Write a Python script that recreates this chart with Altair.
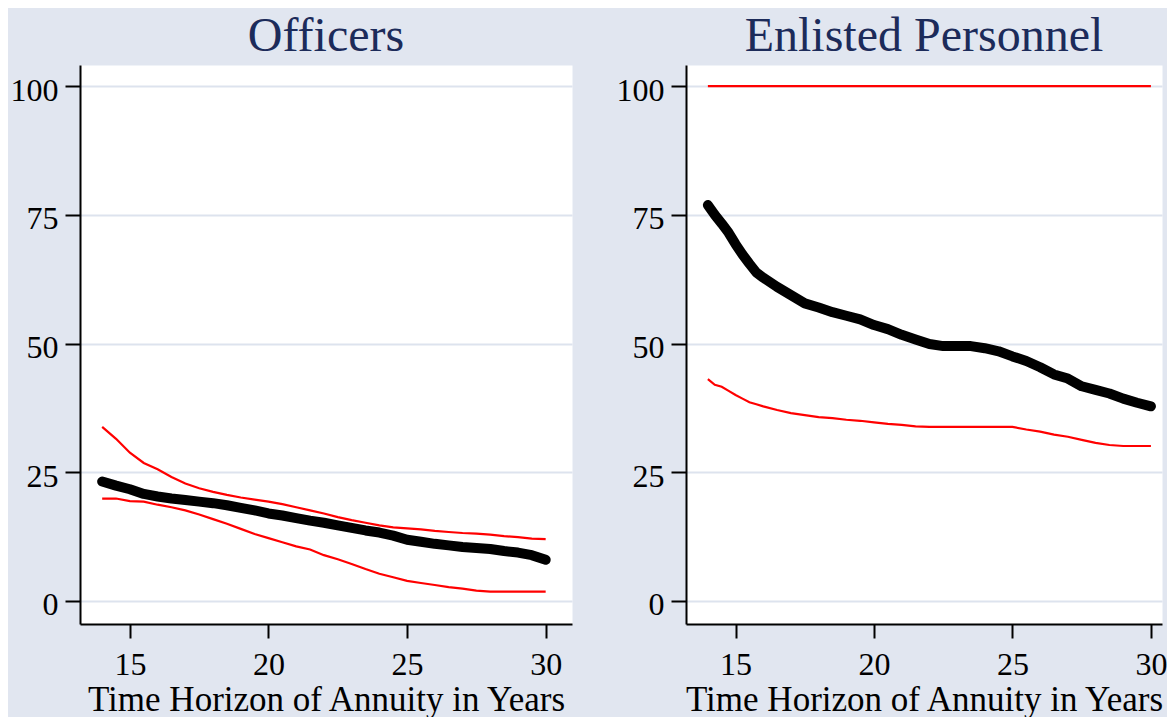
import altair as alt
import pandas as pd

# ---- data ----
off_x = [14, 14.5, 15, 15.5, 16, 16.5, 17, 17.5, 18, 18.5, 19, 19.5, 20, 20.5, 21, 21.5,
         22, 22.5, 23, 23.5, 24, 24.5, 25, 25.5, 26, 26.5, 27, 27.5, 28, 28.5, 29, 29.5, 30]
off_est = [23.2, 22.4, 21.7, 20.8, 20.3, 19.9, 19.6, 19.3, 19.0, 18.6, 18.1, 17.6, 17.0, 16.6,
           16.1, 15.6, 15.2, 14.7, 14.2, 13.7, 13.3, 12.7, 11.9, 11.5, 11.1, 10.8, 10.5, 10.3,
           10.1, 9.7, 9.4, 8.9, 8.0]
off_hi = [33.8, 31.5, 28.8, 26.8, 25.6, 24.1, 22.8, 21.9, 21.2, 20.6, 20.1, 19.7, 19.3, 18.8,
          18.2, 17.6, 17.0, 16.3, 15.7, 15.2, 14.7, 14.3, 14.1, 13.9, 13.6, 13.4, 13.2, 13.1,
          12.9, 12.6, 12.4, 12.1, 12.0]
off_lo = [19.9, 19.9, 19.4, 19.3, 18.7, 18.2, 17.6, 16.8, 15.9, 15.0, 14.0, 13.0, 12.2, 11.4,
          10.6, 10.0, 8.9, 8.1, 7.2, 6.2, 5.3, 4.6, 3.9, 3.5, 3.1, 2.7, 2.4, 2.0, 1.8, 1.8,
          1.8, 1.8, 1.8]

enl_x = [14, 14.25, 14.5, 14.75, 15, 15.25, 15.5, 15.75, 16, 16.5, 17, 17.5, 18, 18.5, 19,
         19.5, 20, 20.5, 21, 21.5, 22, 22.5, 23, 23.5, 24, 24.5, 25, 25.5, 26, 26.5, 27, 27.5,
         28, 28.5, 29, 29.5, 30]
enl_est = [76.9, 75.0, 73.3, 71.5, 69.3, 67.3, 65.5, 63.8, 62.8, 61.0, 59.4, 57.8, 57.0, 56.1,
           55.4, 54.7, 53.6, 52.8, 51.7, 50.8, 49.9, 49.5, 49.5, 49.5, 49.1, 48.5, 47.5, 46.6,
           45.4, 44.0, 43.2, 41.7, 41.0, 40.3, 39.3, 38.5, 37.8]
enl_lo = [43.1, 42.0, 41.6, 40.8, 40.0, 39.3, 38.6, 38.2, 37.8, 37.1, 36.5, 36.1, 35.7, 35.5,
          35.2, 35.0, 34.7, 34.4, 34.2, 33.9, 33.8, 33.8, 33.8, 33.8, 33.8, 33.8, 33.8, 33.3,
          32.9, 32.3, 31.9, 31.3, 30.7, 30.3, 30.1, 30.1, 30.1]
enl_hi = [100.0] * len(enl_x)

x_ticks = [15, 20, 25, 30]
y_ticks = [0, 25, 50, 75, 100]
x_title = "Time Horizon of Annuity in Years"
titles = ["Officers", "Enlisted Personnel"]

SERIF = "Liberation Serif"


def long_ci(xs, hi, lo):
    rows = []
    for x, v in zip(xs, hi):
        rows.append({"x": x, "y": v, "s": "upper"})
    for x, v in zip(xs, lo):
        rows.append({"x": x, "y": v, "s": "lower"})
    return pd.DataFrame(rows)


def panel(xs, est, hi, lo, title, xdom, width):
    xsc = alt.Scale(domain=xdom, nice=False, zero=False)
    ysc = alt.Scale(domain=[-4.47, 104.1], nice=False, zero=False)
    xax = alt.Axis(values=x_ticks, title=x_title, grid=False, tickSize=14,
                   labelPadding=11, titlePadding=2, format="d")
    yax = alt.Axis(values=y_ticks, title=None, grid=True, tickSize=15,
                   labelPadding=7, labelOffset=4, format="d")
    est_df = pd.DataFrame({"x": xs, "y": est})
    black = alt.Chart(est_df).mark_line(
        color="black", strokeWidth=10, strokeCap="round", strokeJoin="round"
    ).encode(
        x=alt.X("x:Q", scale=xsc, axis=xax),
        y=alt.Y("y:Q", scale=ysc, axis=yax),
    )
    red = alt.Chart(long_ci(xs, hi, lo)).mark_line(
        color="#ff0000", strokeWidth=2.2
    ).encode(
        x=alt.X("x:Q", scale=xsc, axis=xax),
        y=alt.Y("y:Q", scale=ysc, axis=yax),
        detail="s:N",
    )
    return alt.layer(black, red).properties(
        width=width, height=559, title=title
    )


left = panel(off_x, off_est, off_hi, off_lo, titles[0], [13.2, 30.95], 492)
right = panel(enl_x, enl_est, enl_hi, enl_lo, titles[1], [13.21, 30.4], 476)

chart = alt.hconcat(left, right, spacing=44).properties(
    background="#e1e6f0",
    padding={"left": 2, "top": 5, "right": 0, "bottom": 0},
).configure_view(
    fill="white", strokeOpacity=0
).configure_axis(
    labelFont=SERIF, labelFontSize=32, labelColor="black",
    titleFont=SERIF, titleFontSize=35, titleColor="black", titleFontWeight="normal",
    domainColor="black", domainWidth=2, tickColor="black", tickWidth=2,
    gridColor="#dde3ee", gridWidth=2,
).configure_title(
    font=SERIF, fontSize=48, color="#1c2b5a", fontWeight="normal",
    offset=4, anchor="middle",
)

chart.save("out.html", embed_options={"renderer": "svg", "actions": False})
